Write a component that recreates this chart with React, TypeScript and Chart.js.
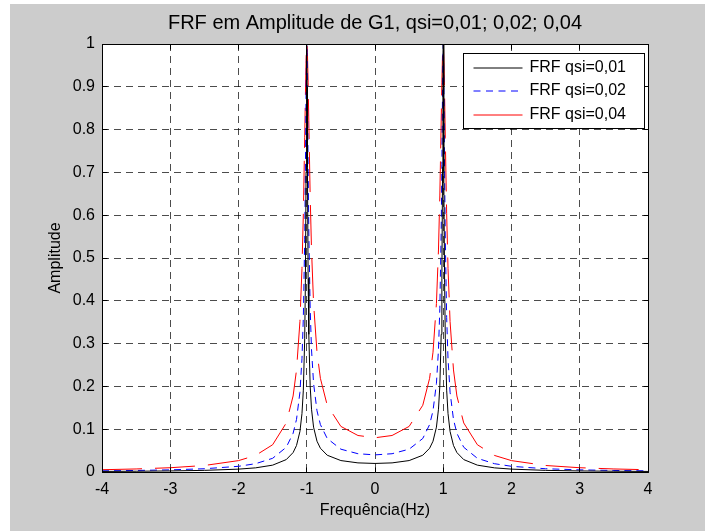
import React, { useEffect, useRef } from "react";
import { Chart, registerables } from "chart.js";

Chart.register(...registerables);

const FONT = "'Liberation Sans', Arial, Helvetica, sans-serif";

const TITLE = "FRF em Amplitude de G1, qsi=0,01; 0,02; 0,04";
const X_LABEL = "Frequência(Hz)";
const Y_LABEL = "Amplitude";
const SERIES_LABELS = ["FRF qsi=0,01", "FRF qsi=0,02", "FRF qsi=0,04"];

const X_MIN = -4;
const X_MAX = 4;
const Y_MIN = 0;
const Y_MAX = 1;

const freq = [
  -4, -3.5, -3, -2.5, -2, -1.75, -1.5, -1.3, -1.2, -1.15, -1.1, -1.07, -1.05, -1.03, -1.02, -1.01, -1.005, -1,
  -0.995, -0.99, -0.98, -0.97, -0.95, -0.93, -0.9, -0.85, -0.8, -0.7, -0.5, -0.25,
  0,
  0.25, 0.5, 0.7, 0.8, 0.85, 0.9, 0.93, 0.95, 0.97, 0.98, 0.99, 0.995, 1,
  1.005, 1.01, 1.02, 1.03, 1.05, 1.07, 1.1, 1.15, 1.2, 1.3, 1.5, 1.75, 2, 2.5, 3, 3.5, 4,
];

const ampQsi001 = [
  0.0013, 0.0018, 0.0025, 0.0038, 0.0067, 0.0097, 0.016, 0.029, 0.0454, 0.0619, 0.0947, 0.1365, 0.1912, 0.3111, 0.4419, 0.7018, 0.8905, 1,
  0.8985, 0.7125, 0.4527, 0.3215, 0.2013, 0.1467, 0.1048, 0.0719, 0.0555, 0.0392, 0.0267, 0.0213,
  0.02,
  0.0213, 0.0267, 0.0392, 0.0555, 0.0719, 0.1048, 0.1467, 0.2013, 0.3215, 0.4527, 0.7125, 0.8985, 1,
  0.8905, 0.7018, 0.4419, 0.3111, 0.1912, 0.1365, 0.0947, 0.0619, 0.0454, 0.029, 0.016, 0.0097, 0.0067, 0.0038, 0.0025, 0.0018, 0.0013,
];

const ampQsi002 = [
  0.0027, 0.0036, 0.005, 0.0076, 0.0133, 0.0194, 0.032, 0.0578, 0.0904, 0.1228, 0.1864, 0.2647, 0.3611, 0.544, 0.6966, 0.8865, 0.9655, 1,
  0.9749, 0.9025, 0.7179, 0.5658, 0.3823, 0.2855, 0.2068, 0.1431, 0.1107, 0.0783, 0.0533, 0.0427,
  0.04,
  0.0427, 0.0533, 0.0783, 0.1107, 0.1431, 0.2068, 0.2855, 0.3823, 0.5658, 0.7179, 0.9025, 0.9749, 1,
  0.9655, 0.8865, 0.6966, 0.544, 0.3611, 0.2647, 0.1864, 0.1228, 0.0904, 0.0578, 0.032, 0.0194, 0.0133, 0.0076, 0.005, 0.0036, 0.0027,
];

const ampQsi004 = [
  0.0053, 0.0071, 0.01, 0.0152, 0.0266, 0.0387, 0.0637, 0.1146, 0.1776, 0.2385, 0.3514, 0.4754, 0.6037, 0.7808, 0.8786, 0.9608, 0.9874, 1,
  0.9972, 0.9796, 0.9108, 0.8202, 0.6471, 0.5187, 0.3937, 0.28, 0.2188, 0.1559, 0.1065, 0.0853,
  0.08,
  0.0853, 0.1065, 0.1559, 0.2188, 0.28, 0.3937, 0.5187, 0.6471, 0.8202, 0.9108, 0.9796, 0.9972, 1,
  0.9874, 0.9608, 0.8786, 0.7808, 0.6037, 0.4754, 0.3514, 0.2385, 0.1776, 0.1146, 0.0637, 0.0387, 0.0266, 0.0152, 0.01, 0.0071, 0.0053,
];

const SERIES = [ampQsi001, ampQsi002, ampQsi004];
const COLORS = ["#000000", "#0000ff", "#ff0000"];
const DASHES: number[][] = [[], [7, 5], [40, 13]];
const LEGEND_DASHES: number[][] = [[], [7, 5.5], []];

const W = 705;
const H = 531;

const figurePlugin = {
  id: "figureBackground",
  beforeDraw(chart: any) {
    const { ctx, chartArea } = chart;
    ctx.save();
    ctx.fillStyle = "#ffffff";
    ctx.fillRect(0, 0, chart.width, chart.height);
    ctx.fillStyle = "#cccccc";
    ctx.fillRect(10, 4, chart.width - 10, chart.height - 4);
    ctx.fillStyle = "#ffffff";
    ctx.fillRect(chartArea.left, chartArea.top, chartArea.right - chartArea.left, chartArea.bottom - chartArea.top);
    ctx.restore();
  },
};

const framePlugin = {
  id: "matlabFrame",
  afterDatasetsDraw(chart: any) {
    const { ctx, chartArea, scales } = chart;
    const L = Math.floor(chartArea.left) + 0.5;
    const R = Math.floor(chartArea.right) + 0.5;
    const T = Math.floor(chartArea.top) + 0.5;
    const B = Math.floor(chartArea.bottom) + 0.5;
    const tick = 5;
    ctx.save();
    ctx.strokeStyle = "#000000";
    ctx.lineWidth = 1;
    ctx.setLineDash([]);
    ctx.beginPath();
    ctx.rect(L, T, R - L, B - T);
    ctx.stroke();
    ctx.beginPath();
    scales.x.ticks.forEach((t: any) => {
      const px = Math.floor(scales.x.getPixelForValue(t.value)) + 0.5;
      ctx.moveTo(px, B);
      ctx.lineTo(px, B - tick);
      ctx.moveTo(px, T);
      ctx.lineTo(px, T + tick);
    });
    scales.y.ticks.forEach((t: any) => {
      const py = Math.floor(scales.y.getPixelForValue(t.value)) + 0.5;
      ctx.moveTo(L, py);
      ctx.lineTo(L + tick, py);
      ctx.moveTo(R, py);
      ctx.lineTo(R - tick, py);
    });
    ctx.stroke();
    ctx.restore();
  },
  afterDraw(chart: any) {
    const { ctx, chartArea } = chart;
    const boxRight = Math.floor(chartArea.right - 4) + 0.5;
    const boxLeft = boxRight - 181;
    const boxTop = Math.floor(chartArea.top + 9) + 0.5;
    const boxH = 75;
    ctx.save();
    ctx.fillStyle = "#ffffff";
    ctx.fillRect(boxLeft, boxTop, boxRight - boxLeft, boxH);
    ctx.strokeStyle = "#000000";
    ctx.lineWidth = 1;
    ctx.setLineDash([]);
    ctx.strokeRect(boxLeft, boxTop, boxRight - boxLeft, boxH);
    ctx.font = `16px ${FONT}`;
    ctx.textBaseline = "middle";
    ctx.textAlign = "left";
    chart.data.datasets.forEach((ds: any, i: number) => {
      const y = Math.round(boxTop + 14 + i * 23.6);
      ctx.save();
      ctx.strokeStyle = COLORS[i];
      ctx.lineWidth = 1;
      ctx.setLineDash(LEGEND_DASHES[i]);
      ctx.beginPath();
      ctx.moveTo(boxLeft + 10, y);
      ctx.lineTo(boxLeft + 59, y);
      ctx.stroke();
      ctx.restore();
      ctx.fillStyle = "#000000";
      ctx.fillText(ds.label, boxLeft + 66, y);
    });
    ctx.restore();
  },
};

export default function App() {
  const ref = useRef<HTMLCanvasElement | null>(null);

  useEffect(() => {
    if (!ref.current) return;
    const datasets = SERIES.map((vals, i) => ({
      label: SERIES_LABELS[i],
      data: freq.map((f, j) => ({ x: f, y: vals[j] })),
      borderColor: COLORS[i],
      backgroundColor: COLORS[i],
      borderWidth: 1,
      borderDash: DASHES[i],
      pointRadius: 0,
      tension: 0,
      fill: false,
    }));

    const chart = new Chart(ref.current, {
      type: "line",
      data: { datasets: datasets as any },
      options: {
        animation: false,
        responsive: false,
        devicePixelRatio: 1,
        parsing: false as any,
        layout: { padding: { left: 0, right: W - 648, top: 0, bottom: 0 } },
        plugins: {
          legend: { display: false },
          tooltip: { enabled: false },
          title: {
            display: true,
            text: TITLE,
            fullSize: false,
            color: "#000000",
            font: { family: FONT, size: 20, weight: "normal" as any, lineHeight: 1.2 },
            padding: { top: 11.7, bottom: 8.3 },
          },
        },
        scales: {
          x: {
            type: "linear",
            min: X_MIN,
            max: X_MAX,
            afterFit: (s: any) => {
              s.height = 59;
            },
            ticks: {
              stepSize: 1,
              autoSkip: false,
              maxRotation: 0,
              padding: 8,
              color: "#000000",
              font: { family: FONT, size: 16 },
              callback: (v: any) => String(Math.round(Number(v))),
            },
            grid: {
              color: "rgba(0,0,0,0.7)",
              lineWidth: 1,
              drawTicks: false,
            },
            border: { display: false, dash: [7, 5] },
            title: {
              display: true,
              text: X_LABEL,
              color: "#000000",
              font: { family: FONT, size: 16, lineHeight: 1.2 },
              padding: { top: 0, bottom: 11 },
            },
          },
          y: {
            type: "linear",
            min: Y_MIN,
            max: Y_MAX,
            afterFit: (s: any) => {
              s.width = 102;
            },
            ticks: {
              stepSize: 0.1,
              autoSkip: false,
              padding: 7,
              color: "#000000",
              font: { family: FONT, size: 16 },
              callback: (v: any) => String(Math.round(Number(v) * 10) / 10),
            },
            grid: {
              color: "rgba(0,0,0,0.7)",
              lineWidth: 1,
              drawTicks: false,
            },
            border: { display: false, dash: [7, 5] },
            title: {
              display: true,
              text: Y_LABEL,
              color: "#000000",
              font: { family: FONT, size: 16, lineHeight: 1.2 },
              padding: { top: 46, bottom: 0 },
            },
          },
        },
      },
      plugins: [figurePlugin, framePlugin],
    });

    return () => chart.destroy();
  }, []);

  return (
    <div style={{ position: "fixed", left: 0, top: 0, width: W, height: H }}>
      <canvas ref={ref} width={W} height={H} style={{ display: "block", width: W, height: H }} />
    </div>
  );
}
